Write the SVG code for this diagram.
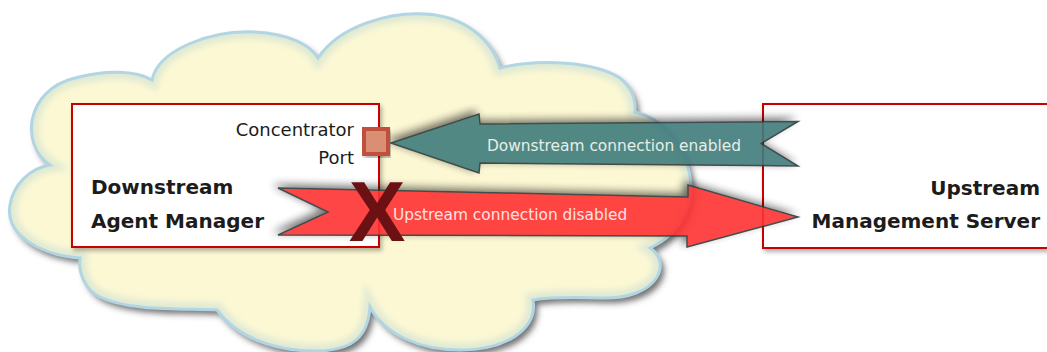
<svg xmlns="http://www.w3.org/2000/svg" width="1047" height="352" viewBox="0 0 1047 352">
<defs>
<style>
.box{fill:#ffffff;stroke:#c80000;stroke-width:2}
.lbl{font-family:"DejaVu Sans",sans-serif;fill:#1c1c1c}
.big{font-size:20px;font-weight:bold}
.small{font-size:18px}
.alabel{font-family:"DejaVu Sans",sans-serif;font-size:15.4px}
.arrow{stroke:#2f3a3a;stroke-width:1.5;stroke-linejoin:miter}
</style>
<path id="cloud" d="M50,165 C20,145 25,90 75,78 C105,70 135,70 152,80 C158,50 210,30 255,32 C290,34 310,45 318,58 C340,25 390,12 425,14 C465,16 492,40 500,68 C540,58 595,62 620,78 C632,88 636,100 635,112 C690,125 720,215 650,248 C672,262 660,300 600,298 C565,297 545,298 533,300 C538,330 505,350 460,350 C420,350 385,335 370,307 C368,335 355,351 315,351 C270,351 235,335 217,310 C190,308 130,312 100,297 C85,290 78,272 80,258 C40,255 5,235 10,205 C13,185 30,168 50,165 Z"/>
<clipPath id="cloudClip"><use href="#cloud"/></clipPath>
<filter id="cshadow" x="-10%" y="-10%" width="120%" height="130%">
<feDropShadow dx="4" dy="5" stdDeviation="3" flood-color="#404040" flood-opacity="0.75"/>
</filter>
<filter id="blur4"><feGaussianBlur stdDeviation="3"/></filter>
<filter id="ash" x="-20%" y="-60%" width="140%" height="220%">
<feDropShadow dx="-4" dy="-3" stdDeviation="4" flood-color="#000" flood-opacity="0.6"/>
</filter>
<filter id="bshadow" x="-5%" y="-5%" width="115%" height="120%">
<feDropShadow dx="2" dy="3" stdDeviation="2" flood-color="#000" flood-opacity="0.3"/>
</filter>
</defs>

<g id="cloud-bg">
<use href="#cloud" fill="#fcf8d4" filter="url(#cshadow)"/>
<g clip-path="url(#cloudClip)">
<use href="#cloud" fill="none" stroke="#dfe9d3" stroke-width="14" filter="url(#blur4)"/>
</g>
<use href="#cloud" fill="none" stroke="#b2d5e4" stroke-width="3"/>
</g>

<g id="downstream-agent-manager">
<rect class="box" x="72" y="104" width="307" height="143" filter="url(#bshadow)"/>
<text class="lbl big" x="91" y="194">Downstream</text>
<text class="lbl big" x="91" y="228">Agent Manager</text>
<text class="lbl small" x="354" y="136" text-anchor="end">Concentrator</text>
<text class="lbl small" x="354" y="164" text-anchor="end">Port</text>
</g>

<g id="upstream-management-server">
<rect class="box" x="763" y="104" width="300" height="144" filter="url(#bshadow)"/>
<text class="lbl big" x="1040" y="195" text-anchor="end">Upstream</text>
<text class="lbl big" x="1040" y="228" text-anchor="end">Management Server</text>
</g>

<g id="connectors">
<g id="downstream-connection" filter="url(#ash)" opacity="0.9">
<polygon class="arrow" fill="#3f7c7c" points="391,143 479,114 480,124 798,121.5 761,143.5 798,166 480,163 479,173"/>
</g>
<text class="alabel" x="614" y="151" text-anchor="middle" fill="#e6eee6">Downstream connection enabled</text>
<g id="upstream-connection" filter="url(#ash)" opacity="0.9">
<polygon class="arrow" fill="#ff3232" points="278,188 688,197 688,185 798,217 687,247 687,236 278,235 328,212"/>
</g>
<text class="alabel" x="393" y="220" fill="#ffe2e2">Upstream connection disabled</text>
</g>

<g id="concentrator-port">
<rect x="364" y="129" width="24" height="25" fill="#d98f73" stroke="#c0503c" stroke-width="4" filter="url(#bshadow)"/>
</g>

<g id="disabled-mark">
<text x="377" y="241" text-anchor="middle" font-family="Liberation Sans, sans-serif" font-weight="bold" font-size="85" fill="#6b1013">X</text>
</g>
</svg>
